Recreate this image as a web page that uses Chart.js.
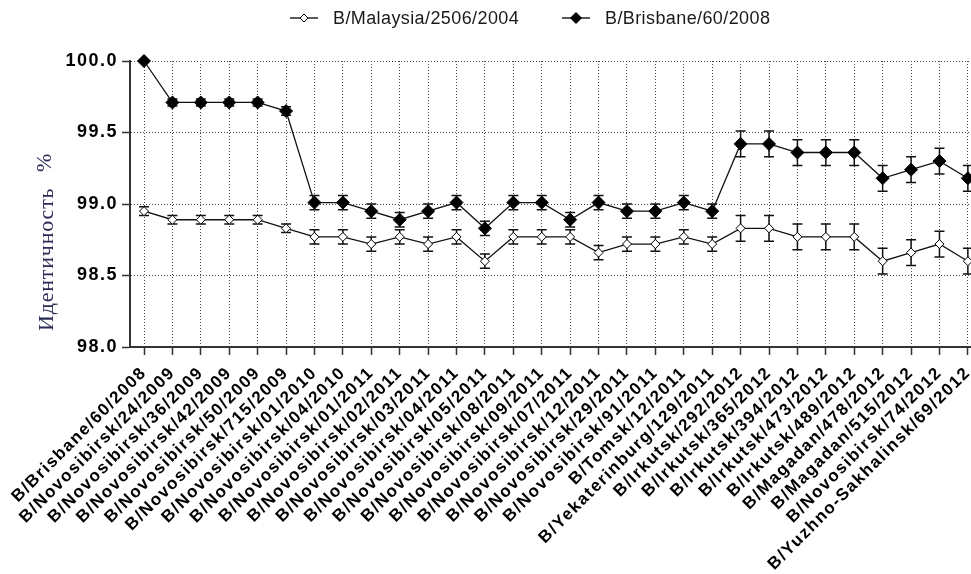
<!DOCTYPE html>
<html>
<head>
<meta charset="utf-8">
<script src="https://cdn.jsdelivr.net/npm/chart.js@4/dist/chart.umd.min.js"></script>
<style>
  body { margin: 0; background: #fff; }
  canvas { display: block; }
</style>
</head>
<body>
<canvas id="identityChart" width="971" height="574"></canvas>
<script>
'use strict';

let strains = [
  'B/Brisbane/60/2008', 'B/Novosibirsk/24/2009', 'B/Novosibirsk/36/2009',
  'B/Novosibirsk/42/2009', 'B/Novosibirsk/50/2009', 'B/Novosibirsk/715/2009',
  'B/Novosibirsk/01/2010', 'B/Novosibirsk/04/2010', 'B/Novosibirsk/01/2011',
  'B/Novosibirsk/02/2011', 'B/Novosibirsk/03/2011', 'B/Novosibirsk/04/2011',
  'B/Novosibirsk/05/2011', 'B/Novosibirsk/08/2011', 'B/Novosibirsk/09/2011',
  'B/Novosibirsk/07/2011', 'B/Novosibirsk/12/2011', 'B/Novosibirsk/29/2011',
  'B/Novosibirsk/91/2011', 'B/Tomsk/12/2011', 'B/Yekaterinburg/129/2011',
  'B/Irkutsk/292/2012', 'B/Irkutsk/365/2012', 'B/Irkutsk/394/2012',
  'B/Irkutsk/473/2012', 'B/Irkutsk/489/2012', 'B/Magadan/478/2012',
  'B/Magadan/515/2012', 'B/Novosibirsk/74/2012', 'B/Yuzhno-Sakhalinsk/69/2012'
];

let malaysia = [
  98.95, 98.89, 98.89, 98.89, 98.89, 98.83, 98.77, 98.77, 98.72, 98.77,
  98.72, 98.77, 98.60, 98.77, 98.77, 98.77, 98.66, 98.72, 98.72, 98.77,
  98.72, 98.83, 98.83, 98.77, 98.77, 98.77, 98.60, 98.66, 98.72, 98.60
];
let malaysiaErr = [
  0.03, 0.03, 0.03, 0.03, 0.03, 0.03, 0.05, 0.05, 0.05, 0.05,
  0.05, 0.05, 0.05, 0.05, 0.05, 0.05, 0.05, 0.05, 0.05, 0.05,
  0.05, 0.09, 0.09, 0.09, 0.09, 0.09, 0.09, 0.09, 0.09, 0.09
];

let brisbane = [
  100.0, 99.71, 99.71, 99.71, 99.71, 99.65, 99.01, 99.01, 98.95, 98.89,
  98.95, 99.01, 98.83, 99.01, 99.01, 98.89, 99.01, 98.95, 98.95, 99.01,
  98.95, 99.42, 99.42, 99.36, 99.36, 99.36, 99.18, 99.24, 99.30, 99.18
];
let brisbaneErr = [
  0, 0.025, 0.025, 0.025, 0.025, 0.03, 0.05, 0.05, 0.05, 0.05,
  0.05, 0.05, 0.05, 0.05, 0.05, 0.05, 0.05, 0.05, 0.05, 0.05,
  0.05, 0.09, 0.09, 0.09, 0.09, 0.09, 0.09, 0.09, 0.09, 0.09
];

let yTicks = [98.0, 98.5, 99.0, 99.5, 100.0];
let yTitle = 'Идентичность';
let yUnit = '%';

let ctx = document.getElementById('identityChart').getContext('2d');

function toPoints(values) {
  return values.map(function (v, i) {
    return { x: i, y: v };
  });
}

// error bars, drawn under the markers
let errorBars = {
  id: 'errorBars',
  beforeDatasetsDraw: function (chart) {
    let c = chart.ctx;
    let yScale = chart.scales.y;
    let errs = [malaysiaErr, brisbaneErr];
    c.save();
    c.strokeStyle = '#111';
    c.lineWidth = 1.5;
    chart.data.datasets.forEach(function (ds, di) {
      let meta = chart.getDatasetMeta(di);
      meta.data.forEach(function (pt, i) {
        let e = errs[di][i];
        if (!e) return;
        let top = yScale.getPixelForValue(ds.data[i].y + e);
        let bot = yScale.getPixelForValue(ds.data[i].y - e);
        c.beginPath();
        c.moveTo(pt.x, top);
        c.lineTo(pt.x, bot);
        c.moveTo(pt.x - 5, top);
        c.lineTo(pt.x + 5, top);
        c.moveTo(pt.x - 5, bot);
        c.lineTo(pt.x + 5, bot);
        c.stroke();
      });
    });
    c.restore();
  }
};

function drawMarker(c, x, y, r, fill) {
  c.beginPath();
  c.moveTo(x, y - r);
  c.lineTo(x + r, y);
  c.lineTo(x, y + r);
  c.lineTo(x - r, y);
  c.closePath();
  c.fillStyle = fill;
  c.fill();
  c.strokeStyle = '#000';
  c.lineWidth = 1;
  c.stroke();
}

// legend with line + marker, and the rotated y title
let decorations = {
  id: 'decorations',
  beforeDraw: function (chart) {
    chart.ctx.letterSpacing = '1.5px';
  },
  afterDraw: function (chart) {
    let c = chart.ctx;
    c.save();
    c.letterSpacing = '0.4px';
    c.font = '18px Arial, "Liberation Sans"';
    c.textBaseline = 'middle';
    c.textAlign = 'left';

    let items = [
      { x: 290, text: chart.data.datasets[0].label, r: 4, fill: '#fff' },
      { x: 562, text: chart.data.datasets[1].label, r: 5.5, fill: '#000' }
    ];
    items.forEach(function (it) {
      c.strokeStyle = '#000';
      c.lineWidth = 1.3;
      c.beginPath();
      c.moveTo(it.x, 18);
      c.lineTo(it.x + 28, 18);
      c.stroke();
      drawMarker(c, it.x + 14, 18, it.r, it.fill);
      c.fillStyle = '#1a1a1a';
      c.fillText(it.text, it.x + 43, 19);
    });

    c.translate(47, 331);
    c.rotate(-Math.PI / 2);
    c.fillStyle = '#2b2b55';
    c.font = '22px "Liberation Serif", "DejaVu Serif", serif';
    c.letterSpacing = '0.8px';
    c.textBaseline = 'middle';
    c.fillText(yTitle, 0, 0);
    c.fillText(yUnit, 159, -2);
    c.restore();
    c.letterSpacing = '0px';
  }
};

let chart = new Chart(ctx, {
  type: 'line',
  data: {
    datasets: [{
      label: 'B/Malaysia/2506/2004',
      data: toPoints(malaysia),
      borderColor: '#111',
      borderWidth: 1.3,
      pointStyle: 'rectRot',
      pointRadius: 4.5,
      pointBackgroundColor: '#fff',
      pointBorderColor: '#000',
      pointBorderWidth: 1,
      tension: 0,
      clip: false
    }, {
      label: 'B/Brisbane/60/2008',
      data: toPoints(brisbane),
      borderColor: '#111',
      borderWidth: 1.3,
      pointStyle: 'rectRot',
      pointRadius: 6.5,
      pointBackgroundColor: '#000',
      pointBorderColor: '#000',
      pointBorderWidth: 1,
      tension: 0,
      clip: false
    }]
  },
  options: {
    responsive: false,
    animation: false,
    events: [],
    layout: { autoPadding: false, padding: { top: 61, left: 0, right: 0, bottom: 0 } },
    plugins: {
      legend: { display: false },
      tooltip: { enabled: false }
    },
    scales: {
      x: {
        type: 'linear',
        min: -0.493,
        max: 29.11,
        afterBuildTicks: function (scale) {
          scale.ticks = strains.map(function (s, i) { return { value: i }; });
        },
        afterFit: function (scale) {
          scale.height = 227;
          scale.paddingRight = 0;
          scale.paddingLeft = 0;
        },
        grid: {
          color: '#444',
          lineWidth: 1,
          drawTicks: true,
          tickLength: 8,
          tickColor: '#333',
          tickWidth: 1.5
        },
        border: { display: true, color: '#333', width: 2, dash: [1, 2] },
        ticks: {
          autoSkip: false,
          minRotation: 45,
          maxRotation: 45,
          padding: 8,
          color: '#000',
          font: { family: 'Arial, "Liberation Sans"', size: 17, weight: 'bold' },
          callback: function (v) { return strains[v]; }
        }
      },
      y: {
        min: 98,
        max: 100,
        afterBuildTicks: function (scale) {
          scale.ticks = yTicks.map(function (v) { return { value: v }; });
        },
        afterFit: function (scale) {
          scale.width = 130;
          scale.paddingTop = 0;
          scale.paddingBottom = 0;
        },
        grid: {
          color: '#444',
          lineWidth: 1,
          drawTicks: true,
          tickLength: 8,
          tickColor: '#333',
          tickWidth: 1.5
        },
        border: { display: true, color: '#333', width: 2, dash: [1, 2] },
        ticks: {
          padding: 4,
          color: '#000',
          font: { family: 'Arial, "Liberation Sans"', size: 18, weight: 'bold' },
          callback: function (v) { return v.toFixed(1); }
        }
      }
    }
  },
  plugins: [errorBars, decorations]
});
</script>
</body>
</html>
